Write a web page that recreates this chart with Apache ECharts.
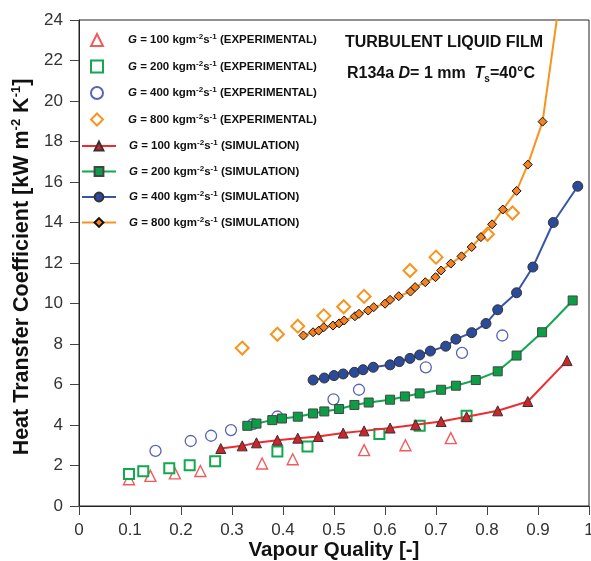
<!DOCTYPE html>
<html><head><meta charset="utf-8">
<script src="https://cdn.jsdelivr.net/npm/echarts@6/dist/echarts.min.js"></script>
<style>html,body{margin:0;padding:0;background:#fff}#c{width:591px;height:561px}</style>
</head><body><div id="c"></div>
<script>
// ---- axis ticks ----
const xTicks = [0, 0.1, 0.2, 0.3, 0.4, 0.5, 0.6, 0.7, 0.8, 0.9, 1];
const yTicks = [0, 2, 4, 6, 8, 10, 12, 14, 16, 18, 20, 22, 24];

// ---- mass fluxes ----
const gValues = ['100', '200', '400', '800'];

// ---- experimental data [quality, HTC] ----
const exp100 = [[0.098,1.32],[0.140,1.49],[0.188,1.61],[0.238,1.73],[0.359,2.10],[0.419,2.31],[0.559,2.76],[0.640,3.00],[0.729,3.35]];
const exp200 = [[0.098,1.58],[0.126,1.71],[0.177,1.86],[0.217,2.01],[0.267,2.21],[0.389,2.69],[0.448,2.94],[0.589,3.56],[0.668,3.96],[0.760,4.46]];
const exp400 = [[0.150,2.72],[0.219,3.21],[0.259,3.47],[0.298,3.75],[0.341,4.04],[0.389,4.42],[0.499,5.27],[0.549,5.74],[0.680,6.85],[0.751,7.56],[0.830,8.42]];
const exp800 = [[0.320,7.80],[0.389,8.48],[0.429,8.88],[0.480,9.39],[0.519,9.84],[0.559,10.35],[0.649,11.63],[0.700,12.29],[0.801,13.42],[0.850,14.47]];

// ---- simulation data [quality, HTC] ----
const sim100 = [[0.278,2.84],[0.320,2.97],[0.348,3.12],[0.389,3.25],[0.429,3.35],[0.469,3.43],[0.518,3.60],[0.559,3.71],[0.610,3.85],[0.660,4.01],[0.710,4.17],[0.760,4.41],[0.821,4.70],[0.880,5.16],[0.957,7.18]];
const sim200 = [[0.330,3.96],[0.348,4.07],[0.379,4.24],[0.398,4.32],[0.429,4.41],[0.459,4.57],[0.481,4.67],[0.510,4.79],[0.540,4.99],[0.568,5.11],[0.610,5.25],[0.639,5.41],[0.668,5.56],[0.710,5.74],[0.739,5.94],[0.778,6.22],[0.821,6.65],[0.858,7.43],[0.908,8.58],[0.968,10.15]];
const sim400 = [[0.459,6.22],[0.481,6.32],[0.500,6.44],[0.518,6.52],[0.540,6.60],[0.557,6.73],[0.577,6.85],[0.610,6.97],[0.628,7.13],[0.649,7.29],[0.668,7.46],[0.689,7.65],[0.719,7.89],[0.739,8.24],[0.770,8.56],[0.798,9.01],[0.821,9.69],[0.858,10.53],[0.890,11.80],[0.930,14.00],[0.978,15.79]];
const sim800 = [[0.440,8.42],[0.459,8.58],[0.470,8.66],[0.480,8.83],[0.498,8.91],[0.510,9.02],[0.520,9.16],[0.541,9.37],[0.549,9.49],[0.567,9.65],[0.578,9.82],[0.600,9.99],[0.610,10.18],[0.627,10.36],[0.650,10.59],[0.659,10.81],[0.679,11.05],[0.699,11.30],[0.710,11.63],[0.729,11.97],[0.750,12.33],[0.770,12.79],[0.788,13.28],[0.810,13.91],[0.831,14.64],[0.858,15.56],[0.880,16.86],[0.909,18.98],[0.950,26.4]];

const FONT = 'Liberation Sans, Arial, Helvetica, sans-serif';
const expNames = gValues.map(g => g + '|EXPERIMENTAL');
const simNames = gValues.map(g => g + '|SIMULATION');

const legendRich = {
  i: {fontFamily: FONT, fontWeight: 'bold', fontStyle: 'italic', fontSize: 11.5, lineHeight: 14, color: '#111'},
  n: {fontFamily: FONT, fontWeight: 'bold', fontSize: 11.5, lineHeight: 14, color: '#111'},
  s: {fontFamily: FONT, fontWeight: 'bold', fontSize: 8, lineHeight: 8, verticalAlign: 'top', color: '#111'}
};
const legendFmt = name => {
  const p = name.split('|');
  return '{i|G}{n| = ' + p[0] + ' kgm}{s|-2}{n|s}{s|-1}{n| (' + p[1] + ')}';
};

const expStyles = [
  {symbol: 'triangle', size: 11, color: '#f25b5e', bw: 1.4},
  {symbol: 'rect', size: 10, color: '#12a84e', bw: 2},
  {symbol: 'circle', size: 11, color: '#5a63b5', bw: 1.3},
  {symbol: 'diamond', size: 13, color: '#f7941d', bw: 2}
];
const simStyles = [
  {symbol: 'triangle', size: 10, line: '#ee2c30', fill: '#d0232a', border: '#333'},
  {symbol: 'rect', size: 9, line: '#12a84e', fill: '#0c9e47', border: '#444'},
  {symbol: 'circle', size: 10, line: '#3a54a4', fill: '#2c4a9a', border: '#333'},
  {symbol: 'diamond', size: 9, line: '#f7941d', fill: '#f58220', border: '#111'}
];
const expData = [exp100, exp200, exp400, exp800];
const simData = [sim100, sim200, sim400, sim800];

const series = [];
expData.forEach((d, k) => {
  const s = expStyles[k];
  series.push({
    name: expNames[k], type: 'scatter', data: d, symbol: s.symbol, symbolSize: s.size,
    itemStyle: {color: '#fff', borderColor: s.color, borderWidth: s.bw, opacity: 1},
    z: 2
  });
});
simData.forEach((d, k) => {
  const s = simStyles[k];
  series.push({
    name: simNames[k], type: 'line', data: d, symbol: s.symbol, symbolSize: s.size,
    showSymbol: true, clip: true,
    lineStyle: {color: s.line, width: 2},
    itemStyle: {color: s.fill, borderColor: s.border, borderWidth: 1},
    z: 3
  });
});

const chart = echarts.init(document.getElementById('c'), null, {renderer: 'canvas'});
chart.setOption({
  animation: false,
  backgroundColor: '#fff',
  grid: {left: 79, right: 2, top: 20, bottom: 55, outerBoundsMode: 'none', containLabel: false,
    show: true, borderColor: '#222', borderWidth: 1, backgroundColor: 'transparent'},
  xAxis: {
    type: 'value', min: 0, max: 1, interval: 0.1,
    name: 'Vapour Quality [-]', nameLocation: 'middle', nameGap: 34, nameMoveOverlap: false,
    nameTextStyle: {fontFamily: FONT, fontWeight: 'bold', fontSize: 20.5, color: '#111'},
    axisLine: {lineStyle: {color: '#222', width: 1}},
    axisTick: {show: true, inside: false, length: 9, lineStyle: {color: '#444'}},
    axisLabel: {fontFamily: FONT, fontSize: 17, color: '#333', margin: 16, hideOverlap: false,
      formatter: v => { const t = xTicks.find(x => Math.abs(x - v) < 1e-6); return t === 0 ? '0' : t === 1 ? '1' : t.toFixed(1); }},
    splitLine: {show: false}
  },
  yAxis: {
    type: 'value', min: 0, max: 24, interval: 2,
    name: '{b|Heat Transfer Coefficient [kW m}{s|-2}{b| K}{s|-1}{b|]}', nameLocation: 'middle', nameGap: 45, nameMoveOverlap: false,
    nameTextStyle: {padding: [0, 8, 0, 0], rich: {
      b: {fontFamily: FONT, fontWeight: 'bold', fontSize: 21.5, lineHeight: 24, color: '#111'},
      s: {fontFamily: FONT, fontWeight: 'bold', fontSize: 13, lineHeight: 13, verticalAlign: 'top', color: '#111'}
    }},
    axisLine: {lineStyle: {color: '#222', width: 1}},
    axisTick: {show: true, inside: false, length: 9, lineStyle: {color: '#444'}},
    axisLabel: {fontFamily: FONT, fontSize: 17, color: '#333', margin: 16,
      formatter: v => String(yTicks.find(y => Math.abs(y - v) < 1e-6))},
    splitLine: {show: false}
  },
  legend: [
    {data: expNames, orient: 'vertical', left: 90, top: 33, padding: 0, itemWidth: 12, itemHeight: 12, itemGap: 12.5,
     selectedMode: false, formatter: legendFmt, textStyle: {rich: legendRich, padding: [0, 0, 0, 20]}},
    {data: simNames, orient: 'vertical', left: 81, top: 139, padding: 0, itemWidth: 34, itemHeight: 11, itemGap: 12.5,
     selectedMode: false, formatter: legendFmt, textStyle: {rich: legendRich, padding: [0, 0, 0, 8]}}
  ],
  graphic: [
    {type: 'text', x: 444, y: 43, style: {text: 'TURBULENT LIQUID FILM', font: 'bold 16px ' + FONT, fill: '#111', align: 'center', verticalAlign: 'middle'}},
    {type: 'text', x: 441, y: 74, style: {
      text: '{n|R134a }{i|D}{n|= 1 mm  }{i|T}{u|s}{n|=40°C}', align: 'center', verticalAlign: 'middle',
      rich: {
        n: {fontFamily: FONT, fontWeight: 'bold', fontSize: 16, lineHeight: 20, fill: '#111', color: '#111'},
        i: {fontFamily: FONT, fontWeight: 'bold', fontStyle: 'italic', fontSize: 16, lineHeight: 20, fill: '#111', color: '#111'},
        u: {fontFamily: FONT, fontWeight: 'bold', fontSize: 10, lineHeight: 10, verticalAlign: 'bottom', fill: '#111', color: '#111'}
      }}}
  ],
  series: series
});
</script>
</body></html>
